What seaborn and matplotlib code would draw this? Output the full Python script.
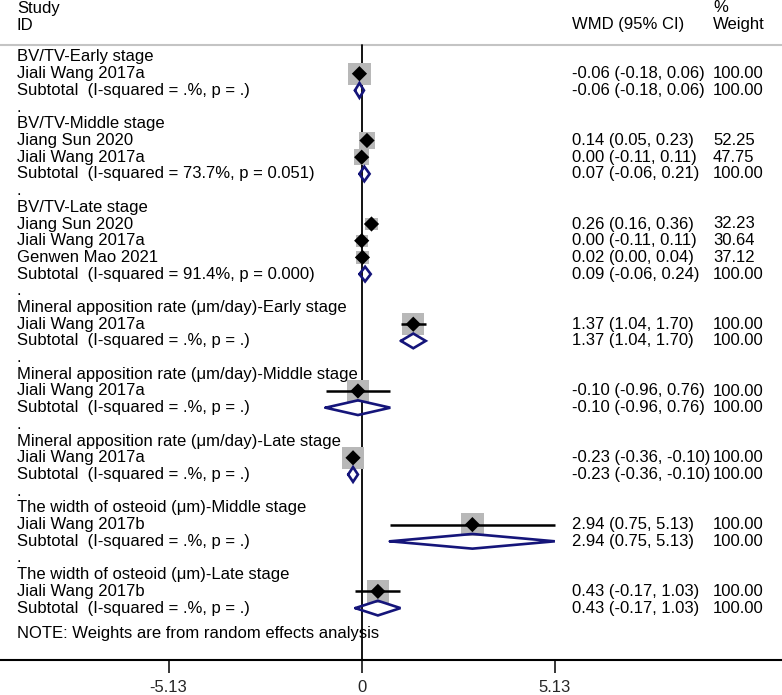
import matplotlib
matplotlib.use("Agg")
import matplotlib.pyplot as plt
import matplotlib.transforms as mtransforms
import seaborn as sns
import pandas as pd

# ── Data ─────────────────────────────────────────────────────────────
group_titles = [
    "BV/TV-Early stage",
    "BV/TV-Middle stage",
    "BV/TV-Late stage",
    "Mineral apposition rate (\u03bcm/day)-Early stage",
    "Mineral apposition rate (\u03bcm/day)-Middle stage",
    "Mineral apposition rate (\u03bcm/day)-Late stage",
    "The width of osteoid (\u03bcm)-Middle stage",
    "The width of osteoid (\u03bcm)-Late stage",
]
study_group = [0, 1, 1, 2, 2, 2, 3, 4, 5, 6, 7]
study_ids = ["Jiali Wang 2017a", "Jiang Sun 2020", "Jiali Wang 2017a",
             "Jiang Sun 2020", "Jiali Wang 2017a", "Genwen Mao 2021",
             "Jiali Wang 2017a", "Jiali Wang 2017a", "Jiali Wang 2017a",
             "Jiali Wang 2017b", "Jiali Wang 2017b"]
study_wmd = [-0.06, 0.14, 0.00, 0.26, 0.00, 0.02, 1.37, -0.10, -0.23, 2.94, 0.43]
study_lo = [-0.18, 0.05, -0.11, 0.16, -0.11, 0.00, 1.04, -0.96, -0.36, 0.75, -0.17]
study_hi = [0.06, 0.23, 0.11, 0.36, 0.11, 0.04, 1.70, 0.76, -0.10, 5.13, 1.03]
study_weight = [100.00, 52.25, 47.75, 32.23, 30.64, 37.12, 100.00, 100.00, 100.00, 100.00, 100.00]

sub_wmd = [-0.06, 0.07, 0.09, 1.37, -0.10, -0.23, 2.94, 0.43]
sub_lo = [-0.18, -0.06, -0.06, 1.04, -0.96, -0.36, 0.75, -0.17]
sub_hi = [0.06, 0.21, 0.24, 1.70, 0.76, -0.10, 5.13, 1.03]
sub_het = [".%, p = .", "73.7%, p = 0.051", "91.4%, p = 0.000", ".%, p = .",
           ".%, p = .", ".%, p = .", ".%, p = .", ".%, p = ."]

x_ticks = [-5.13, 0, 5.13]
x_ticklabels = ["-5.13", "0", "5.13"]

# ── Style ────────────────────────────────────────────────────────────
sns.set_style("white")
plt.rcParams["font.family"] = ["Liberation Sans", "DejaVu Sans"]
FS = 12
NAVY = "#15157a"
BOX = "#b8b8b8"

# ── Row layout ───────────────────────────────────────────────────────
rows_study, rows_sub, rows_title, rows_dot = [], [], [], []
r = 0
for g in range(len(group_titles)):
    if g > 0:
        rows_dot.append(r)
        r += 1
    rows_title.append(r)
    r += 1
    for i, sg in enumerate(study_group):
        if sg == g:
            rows_study.append(r)
            r += 1
    rows_sub.append(r)
    r += 1
note_row = r + 0.5

df = pd.DataFrame({"id": study_ids, "wmd": study_wmd, "lo": study_lo,
                   "hi": study_hi, "weight": study_weight, "row": rows_study})
sub = pd.DataFrame({"wmd": sub_wmd, "lo": sub_lo, "hi": sub_hi,
                    "het": sub_het, "row": rows_sub})

# ── Figure ───────────────────────────────────────────────────────────
W, H = 782, 695
fig = plt.figure(figsize=(W / 100, H / 100), dpi=100)
axis_px = 660
ax = fig.add_axes([0, (H - axis_px) / H, 1, axis_px / H])

ppu = 37.65          # pixels per WMD unit
zero_px = 361.7
row0_px, row_h = 57, 16.7
ax.set_xlim(-zero_px / ppu, (W - zero_px) / ppu)
ax.set_ylim((axis_px - row0_px) / row_h, -row0_px / row_h)

rule_row = (45 - row0_px) / row_h
ax.axhline(rule_row, color="#c4c4c4", lw=1.5, zorder=1)
ax.plot([0, 0], [rule_row, (axis_px - row0_px) / row_h], color="black", lw=1.3, zorder=1)

# study boxes and CIs
sns.scatterplot(data=df, x="wmd", y="row", size="weight", sizes=(0, 260),
                size_norm=(0, 100), marker="s", color=BOX, edgecolor="none",
                legend=False, ax=ax, zorder=2)
ax.hlines(df["row"], df["lo"], df["hi"], color="black", lw=1.8, zorder=3)
sns.scatterplot(data=df, x="wmd", y="row", marker="D", s=60, color="black",
                edgecolor="none", legend=False, ax=ax, zorder=4)

# subtotal diamonds
dh = 0.44
for _, s in sub.iterrows():
    ax.plot([s["lo"], s["wmd"], s["hi"], s["wmd"], s["lo"]],
            [s["row"], s["row"] - dh, s["row"], s["row"] + dh, s["row"]],
            color=NAVY, lw=1.9, solid_joinstyle="miter", zorder=4)

# ── Text columns ─────────────────────────────────────────────────────
tr = mtransforms.blended_transform_factory(ax.transAxes, ax.transData)
xl, xw, xp = 17 / W, 572 / W, 713 / W

def txt(x, row, s):
    ax.text(x, row, s, transform=tr, ha="left", va="center", fontsize=FS, color="black")

txt(xl, (8 - row0_px) / row_h, "Study")
txt(xl, (25 - row0_px) / row_h, "ID")
txt(xw, (25 - row0_px) / row_h, "WMD (95% CI)")
txt(xp, (8 - row0_px) / row_h, "%")
txt(xp, (25 - row0_px) / row_h, "Weight")

for t, rr in zip(group_titles, rows_title):
    txt(xl, rr, t)
for rr in rows_dot:
    txt(xl, rr, ".")
for _, s in df.iterrows():
    txt(xl, s["row"], s["id"])
    txt(xw, s["row"], f"{s['wmd']:.2f} ({s['lo']:.2f}, {s['hi']:.2f})")
    txt(xp, s["row"], f"{s['weight']:.2f}")
for _, s in sub.iterrows():
    txt(xl, s["row"], f"Subtotal  (I-squared = {s['het']})")
    txt(xw, s["row"], f"{s['wmd']:.2f} ({s['lo']:.2f}, {s['hi']:.2f})")
    txt(xp, s["row"], "100.00")
txt(xl, note_row, "NOTE: Weights are from random effects analysis")

# ── Axis ─────────────────────────────────────────────────────────────
for side in ["top", "left", "right"]:
    ax.spines[side].set_visible(False)
ax.spines["bottom"].set_linewidth(1.5)
ax.spines["bottom"].set_color("black")
ax.set_yticks([])
ax.set_xticks(x_ticks)
ax.set_xticklabels(x_ticklabels, fontsize=FS)
ax.tick_params(axis="x", direction="out", length=9.4, width=1.3, pad=5, bottom=True)
ax.set_xlabel("")
ax.set_ylabel("")

fig.savefig("out.png", dpi=100)
